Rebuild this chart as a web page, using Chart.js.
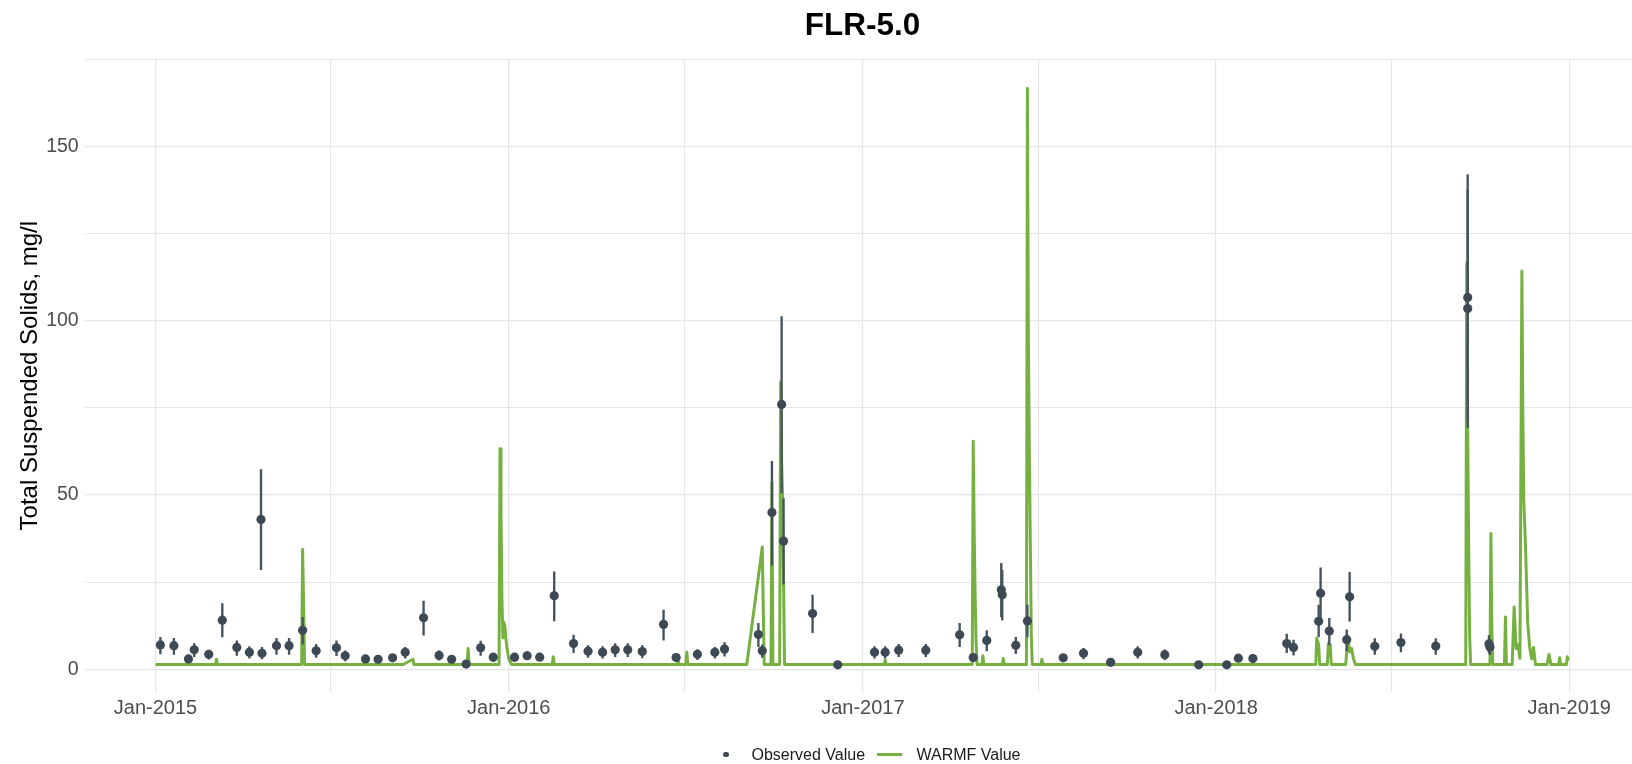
<!DOCTYPE html>
<html>
<head>
<meta charset="utf-8">
<script src="https://cdn.jsdelivr.net/npm/chart.js@4.4.1/dist/chart.umd.min.js"></script>
<style>
html,body{margin:0;padding:0;background:#ffffff;}
#wrap{position:relative;width:1632px;height:764px;font-family:"Liberation Sans",Arial,sans-serif;overflow:hidden;}
#c{position:absolute;left:0;top:0;}
#title{position:absolute;left:0;top:6px;width:1725px;height:37px;line-height:37px;text-align:center;font-size:31.5px;font-weight:bold;color:#000;white-space:nowrap;}
.legtxt{position:absolute;top:745px;height:20px;line-height:20px;font-size:16px;color:#1a1a1a;white-space:nowrap;}
.legdot{position:absolute;left:723px;top:751.5px;width:5.6px;height:5.6px;border-radius:50%;background:#3d4a56;}
.legline{position:absolute;left:877px;top:753px;width:25px;height:2.6px;background:#76b041;}
</style>
</head>
<body>
<div id="wrap">
  <canvas id="c" width="1632" height="764"></canvas>
  <div id="title"></div>
  <div class="legdot"></div>
  <div class="legtxt" style="left:751.5px;">Observed Value</div>
  <div class="legline"></div>
  <div class="legtxt" style="left:916.5px;">WARMF Value</div>
</div>
<script>
// ---------- DATA ----------
const chartTitle = 'FLR-5.0';
const yAxisTitle = 'Total Suspended Solids, mg/l';

const obsDates = [
  '2015-01-06','2015-01-20','2015-02-04','2015-02-10','2015-02-25','2015-03-11','2015-03-26','2015-04-08',
  '2015-04-20','2015-04-21','2015-05-06','2015-05-19','2015-06-02','2015-06-16','2015-07-07','2015-07-16',
  '2015-08-06','2015-08-19','2015-09-03','2015-09-16','2015-10-05','2015-10-21','2015-11-03','2015-11-18',
  '2015-12-03','2015-12-16','2016-01-07','2016-01-20','2016-02-02','2016-02-17','2016-03-08','2016-03-23',
  '2016-04-07','2016-04-20','2016-05-03','2016-05-18','2016-06-09','2016-06-22','2016-07-14','2016-08-01',
  '2016-08-11','2016-09-15','2016-09-19','2016-09-29','2016-10-09','2016-10-11','2016-11-10','2016-12-06',
  '2017-01-13','2017-01-24','2017-02-07','2017-03-07','2017-04-11','2017-04-25','2017-05-09','2017-05-24',
  '2017-05-25','2017-06-08','2017-06-20','2017-07-27','2017-08-17','2017-09-14','2017-10-12','2017-11-09',
  '2017-12-14','2018-01-12','2018-01-24','2018-02-08','2018-03-15','2018-03-22','2018-04-17','2018-04-19',
  '2018-04-28','2018-05-16','2018-05-19','2018-06-14','2018-07-11','2018-08-16','2018-09-18','2018-09-18',
  '2018-10-10','2018-10-11'
];
const obsValues = [
  7.0, 6.8, 3.0, 5.6, 4.3, 14.1, 6.3, 4.9,
  43.0, 4.6, 6.8, 6.8, 11.2, 5.3, 6.2, 3.9,
  3.0, 2.9, 3.3, 4.9, 14.8, 4.0, 2.9, 1.5,
  6.2, 3.5, 3.5, 3.9, 3.5, 21.1, 7.4, 5.2,
  4.9, 5.6, 5.6, 5.1, 12.9, 3.4, 4.3, 4.9,
  5.8, 10.0, 5.3, 45.0, 76.0, 36.8, 16.0, 1.3,
  4.9, 4.9, 5.5, 5.5, 9.9, 3.4, 8.3, 22.8,
  21.4, 6.9, 13.9, 3.3, 4.6, 2.0, 4.9, 4.2,
  1.3, 1.3, 3.2, 3.1, 7.4, 6.3, 13.8, 21.8,
  11.0, 8.5, 20.8, 6.6, 7.7, 6.7, 106.7, 103.5,
  7.3, 6.4
];
const obsLow = [
  4.4, 4.3, 3.0, 3.6, 2.9, 9.3, 4.0, 3.2,
  28.6, 3.0, 4.3, 4.3, 7.2, 3.4, 3.9, 2.4,
  3.0, 2.9, 3.3, 3.2, 9.8, 2.6, 2.9, 1.5,
  4.0, 2.3, 2.3, 2.8, 3.5, 13.9, 4.8, 3.4,
  3.2, 3.6, 3.6, 3.3, 8.4, 3.4, 2.8, 3.2,
  3.8, 6.5, 3.4, 29.9, 50.6, 24.4, 10.5, 1.3,
  3.2, 3.2, 3.6, 3.6, 6.5, 3.4, 5.3, 15.1,
  14.1, 4.5, 9.3, 3.3, 3.0, 2.0, 3.2, 2.8,
  1.3, 1.3, 2.5, 3.1, 4.8, 4.1, 9.3, 14.1,
  7.0, 5.3, 13.8, 4.3, 5.0, 4.3, 71.8, 69.4,
  4.7, 4.2
];
const obsHigh = [
  9.2, 8.9, 3.0, 7.4, 5.5, 18.9, 8.2, 6.5,
  57.3, 6.3, 8.9, 8.9, 14.9, 7.2, 8.2, 5.3,
  3.0, 2.9, 3.3, 6.3, 19.6, 5.3, 2.9, 1.5,
  8.1, 4.4, 4.4, 5.0, 3.5, 28.0, 9.8, 6.8,
  6.5, 7.4, 7.4, 6.8, 17.0, 3.4, 5.7, 6.3,
  7.7, 13.2, 7.0, 59.7, 101.2, 49.0, 21.3, 1.3,
  6.5, 6.5, 7.2, 7.2, 13.2, 3.4, 11.1, 30.4,
  28.4, 9.2, 18.4, 3.3, 6.0, 2.0, 6.5, 5.6,
  1.3, 1.3, 4.2, 3.1, 10.1, 8.4, 18.4, 29.1,
  14.6, 11.3, 27.8, 8.8, 10.2, 8.8, 141.9, 137.7,
  9.7, 8.5
];

const warmfDates = [
  '2015-01-01','2015-03-04','2015-03-05','2015-03-06','2015-06-01','2015-06-02','2015-06-03','2015-06-04',
  '2015-09-14','2015-09-24','2015-09-25','2015-11-19','2015-11-20','2015-11-21','2015-12-22','2015-12-23',
  '2015-12-24','2015-12-25','2015-12-26','2015-12-27','2015-12-28','2015-12-29','2015-12-30','2016-01-01',
  '2016-01-04','2016-02-15','2016-02-16','2016-02-17','2016-06-23','2016-06-24','2016-06-25','2016-07-02',
  '2016-07-03','2016-07-04','2016-09-03','2016-09-19','2016-09-21','2016-09-28','2016-09-29','2016-09-30',
  '2016-10-07','2016-10-08','2016-10-09','2016-10-10','2016-10-12','2017-01-23','2017-01-24','2017-01-25',
  '2017-04-24','2017-04-25','2017-04-26','2017-04-27','2017-04-28','2017-04-29','2017-05-04','2017-05-05',
  '2017-05-06','2017-05-25','2017-05-26','2017-05-27','2017-06-19','2017-06-20','2017-06-21','2017-06-22',
  '2017-06-23','2017-06-24','2017-06-25','2017-07-04','2017-07-05','2017-07-06','2018-04-14','2018-04-15',
  '2018-04-17','2018-04-18','2018-04-26','2018-04-27','2018-04-28','2018-04-29','2018-04-30','2018-05-15',
  '2018-05-17','2018-05-19','2018-05-21','2018-05-23','2018-05-25','2018-09-16','2018-09-17','2018-09-18',
  '2018-09-19','2018-09-20','2018-09-21','2018-10-11','2018-10-12','2018-10-13','2018-10-14','2018-10-26',
  '2018-10-27','2018-10-28','2018-11-03','2018-11-05','2018-11-07','2018-11-09','2018-11-11','2018-11-13',
  '2018-11-14','2018-11-15','2018-11-16','2018-11-17','2018-11-19','2018-11-21','2018-11-23','2018-11-25',
  '2018-11-27','2018-12-09','2018-12-11','2018-12-13','2018-12-21','2018-12-22','2018-12-23','2018-12-29',
  '2018-12-30','2018-12-31'
];
const warmfValues = [
  1.4, 1.4, 2.9, 1.4, 1.4, 34.4, 19.0, 1.4,
  1.4, 2.9, 1.4, 1.4, 6.0, 1.4, 1.4, 63.3,
  45.0, 20.0, 9.0, 13.5, 12.5, 9.0, 6.5, 3.0,
  1.4, 1.4, 3.6, 1.4, 1.4, 3.0, 1.4, 1.4,
  5.0, 1.4, 1.4, 35.1, 1.4, 1.4, 53.7, 1.4,
  1.4, 82.4, 60.0, 49.4, 1.4, 1.4, 2.7, 1.4,
  1.4, 65.4, 40.0, 21.0, 7.5, 1.4, 1.4, 3.9,
  1.4, 1.4, 3.1, 1.4, 1.4, 166.7, 95.0, 62.0,
  37.0, 10.0, 1.4, 1.4, 2.9, 1.4, 1.4, 8.9,
  7.0, 1.4, 1.4, 7.4, 6.0, 7.0, 1.4, 1.4,
  9.5, 5.0, 6.0, 3.0, 1.4, 1.4, 116.6, 69.0,
  36.0, 10.0, 1.4, 1.4, 39.0, 11.0, 1.4, 1.4,
  15.0, 1.4, 1.4, 17.9, 6.0, 7.0, 3.2, 114.3,
  73.0, 48.0, 41.0, 33.0, 13.4, 6.5, 3.0, 6.3,
  1.4, 1.4, 4.3, 1.4, 1.4, 3.3, 1.4, 1.4,
  3.6, 2.5
];

const yTickValues = [0, 25, 50, 75, 100, 125, 150, 175];
const yTickLabels = ['0', '', '50', '', '100', '', '150', ''];
const xTickDates = ['2015-01-01','2015-07-01','2016-01-01','2016-07-01','2017-01-01','2017-07-01','2018-01-01','2018-07-01','2019-01-01'];
const xTickLabels = ['Jan-2015','','Jan-2016','','Jan-2017','','Jan-2018','','Jan-2019'];

// ---------- BUILD ----------
document.getElementById('title').textContent = chartTitle;

const toDay = s => Date.UTC(+s.slice(0,4), +s.slice(5,7) - 1, +s.slice(8,10)) / 86400000;
const day0 = toDay('2015-01-01');

const obsPoints = obsDates.map((d, i) => ({x: toDay(d), y: obsValues[i]}));
const obsBars = obsDates.map((d, i) => ({x: toDay(d), y: [obsLow[i], obsHigh[i]]}));
const warmfPoints = warmfDates.map((d, i) => ({x: toDay(d), y: warmfValues[i]}));
const xTickDays = xTickDates.map(toDay);

const FONT = '"Liberation Sans", Arial, sans-serif';
Chart.defaults.font.family = FONT;

new Chart(document.getElementById('c'), {
  type: 'line',
  data: {
    datasets: [
      {
        type: 'scatter',
        label: 'Observed Value',
        data: obsPoints,
        showLine: false,
        pointRadius: 4.6,
        pointHoverRadius: 4.6,
        pointBackgroundColor: '#3d4a56',
        pointBorderColor: '#3d4a56',
        pointBorderWidth: 0,
        order: 0
      },
      {
        type: 'bar',
        label: 'error',
        data: obsBars,
        barThickness: 1.7,
        backgroundColor: '#46535e',
        borderWidth: 0,
        order: 1
      },
      {
        type: 'line',
        label: 'WARMF Value',
        data: warmfPoints,
        borderColor: '#76b041',
        borderWidth: 3,
        pointRadius: 0,
        tension: 0,
        fill: false,
        borderJoinStyle: 'round',
        order: 2
      }
    ]
  },
  options: {
    responsive: false,
    animation: false,
    events: [],
    layout: {autoPadding: false, padding: {left: 0, right: 0, top: 59.3, bottom: 0}},
    plugins: {
      legend: {display: false},
      tooltip: {enabled: false},
      title: {display: false}
    },
    scales: {
      x: {
        type: 'linear',
        offset: false,
        min: day0 - 73.2,
        max: day0 + 1525.8,
        afterBuildTicks: s => { s.ticks = xTickDays.map(v => ({value: v})); },
        afterFit: s => { s.height = 72; s.paddingLeft = 0; s.paddingRight = 0; },
        ticks: {
          autoSkip: false,
          maxRotation: 0,
          padding: 4,
          color: '#4d4d4d',
          font: {size: 20, family: FONT},
          callback: (v, i) => xTickLabels[i]
        },
        grid: {
          offset: false,
          drawTicks: false,
          color: '#e6e6e6',
          lineWidth: ctx => (ctx.index % 2 === 0 ? 1.2 : 1.0)
        },
        border: {display: false}
      },
      y: {
        type: 'linear',
        min: -6.5,
        max: 175,
        afterBuildTicks: s => { s.ticks = yTickValues.map(v => ({value: v})); },
        afterFit: s => { s.width = 84.7; s.paddingTop = 0; s.paddingBottom = 0; },
        ticks: {
          autoSkip: false,
          padding: 6,
          color: '#4d4d4d',
          font: {size: 19.5, family: FONT},
          callback: (v, i) => yTickLabels[i]
        },
        grid: {
          drawTicks: false,
          color: '#e6e6e6',
          lineWidth: ctx => (ctx.index % 2 === 0 ? 1.2 : 1.0)
        },
        border: {display: false},
        title: {
          display: true,
          text: yAxisTitle,
          color: '#000000',
          font: {size: 24, family: FONT},
          padding: {top: 15.6, bottom: 0}
        }
      }
    }
  }
});
</script>
</body>
</html>
